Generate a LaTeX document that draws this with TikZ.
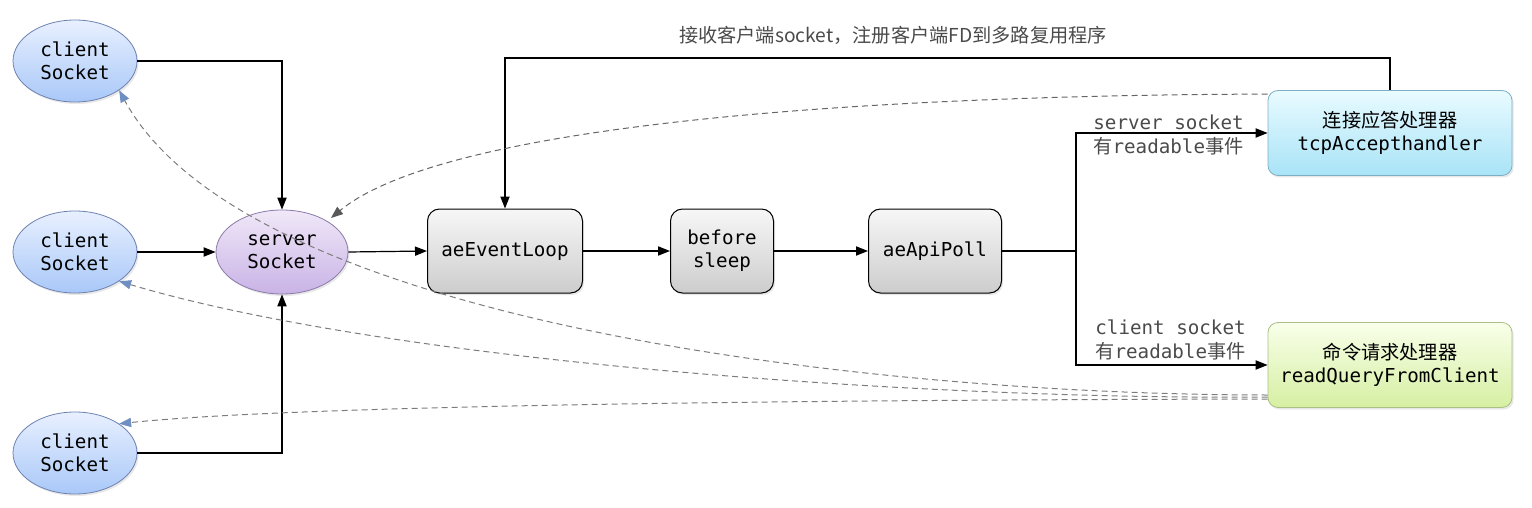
\documentclass[tikz,border=0pt]{standalone}
\usepackage{fontspec}
\setmonofont{DejaVu Sans Mono}
\newfontfamily\cjk{Noto Sans CJK SC}
\usepackage{xcolor}
\usepackage{tikz}
\usetikzlibrary{positioning,shapes.geometric,arrows.meta,shadows}

\begin{document}
\begin{tikzpicture}[
  x=0.5pt,y=-0.5pt,
  font=\ttfamily\fontsize{9.6}{11.6}\selectfont,
  every node/.style={align=center,inner sep=0},
  soft shadow/.style={drop shadow={opacity=0.18,shadow xshift=0.8pt,shadow yshift=-1pt}},
  sock/.style={ellipse,draw=sockline,line width=0.4pt,top color=socktop,bottom color=sockbot,
    minimum width=62pt,minimum height=41pt,soft shadow},
  srvsock/.style={sock,draw=srvline,top color=srvtop,bottom color=srvbot,
    minimum width=66pt,minimum height=42pt},
  stage/.style={rectangle,rounded corners=6pt,draw=black,line width=0.5pt,
    top color=stagetop,bottom color=stagebot,minimum height=42pt,soft shadow},
  handler/.style={rectangle,rounded corners=5pt,line width=0.4pt,
    minimum width=122pt,minimum height=42.5pt,soft shadow},
  flow/.style={draw=black,line width=0.6pt,-{Triangle[length=6pt,width=4.6pt]}},
  back/.style={draw=dashgray,line width=0.5pt,dash pattern=on 3pt off 2pt,
    -{Triangle[length=6pt,width=4.6pt,color=tipblue]}},
  note/.style={text=notegray,align=left}]

  \definecolor{socktop}{HTML}{E8F0FF}
  \definecolor{sockbot}{HTML}{A9C8F8}
  \definecolor{sockline}{HTML}{6E82B0}
  \definecolor{srvtop}{HTML}{F0E8F8}
  \definecolor{srvbot}{HTML}{C9B3E6}
  \definecolor{srvline}{HTML}{8A7AA8}
  \definecolor{stagetop}{HTML}{F7F7F7}
  \definecolor{stagebot}{HTML}{CDCDCD}
  \definecolor{acctop}{HTML}{E9FBFF}
  \definecolor{accbot}{HTML}{A8E3F7}
  \definecolor{accline}{HTML}{7FAFC4}
  \definecolor{readtop}{HTML}{F9FFEA}
  \definecolor{readbot}{HTML}{D6EFA2}
  \definecolor{readline}{HTML}{A9BF86}
  \definecolor{dashgray}{HTML}{7C7C7C}
  \definecolor{tipblue}{HTML}{6F8FC2}
  \definecolor{notegray}{HTML}{4A4A4A}

  \useasboundingbox (0,0) rectangle (1532,508);

  % ------------------- sockets ----------------------
  \node[sock] (c1) at (75,61)  {client\\Socket};
  \node[sock] (c2) at (75,252) {client\\Socket};
  \node[sock] (c3) at (75,453) {client\\Socket};
  \node[srvsock] (srv) at (282,252) {server\\Socket};

  % ------------------- event loop -------------------
  \node[stage,minimum width=77.5pt] (loop)  at (505,251) {aeEventLoop};
  \node[stage,minimum width=51.5pt] (sleep) at (722,251) {before\\sleep};
  \node[stage,minimum width=66.5pt] (poll)  at (935,251) {aeApiPoll};

  % ------------------- handlers ---------------------
  \node[handler,draw=accline,top color=acctop,bottom color=accbot] (tcp) at (1390,133)
    {{\cjk 连接应答处理器}\\tcpAccepthandler};
  \node[handler,draw=readline,top color=readtop,bottom color=readbot] (readq) at (1390,365)
    {{\cjk 命令请求处理器}\\readQueryFromClient};

  % ---------------------------------------------------------
  \draw[flow] (c1.east) -| (srv.north);
  \draw[flow] (c2.east) -- (srv.west);
  \draw[flow] (c3.east) -| (srv.south);

  \draw[flow] (srv.east) -- (loop.west);
  \draw[flow] (loop.east) -- (sleep.west);
  \draw[flow] (sleep.east) -- (poll.west);

  \coordinate (split) at (1076,251);
  \draw[line width=0.6pt] (poll.east) -- (split);
  \draw[flow] (split) |- (tcp.west);
  \draw[flow] (split) |- (readq.west);

  \coordinate (top) at (1390,58);
  \draw[flow] (tcp.north) -- (top) -| (loop.north);

  \node[text=notegray,font=\cjk\fontsize{9.6}{11.6}\selectfont] (topnote) at (893,35)
    {接收客户端socket，注册客户端FD到多路复用程序};
  \node[note,anchor=west] (srvnote) at (1093,135) {server socket\\{\cjk 有}readable{\cjk 事件}};
  \node[note,anchor=west] (clinote) at (1095,340) {client socket\\{\cjk 有}readable{\cjk 事件}};

  % ---------------------------------------------------------
  \draw[back,-{Triangle[length=6pt,width=4.6pt,color=black!65]},draw=black!60]
    ([yshift=-2pt]tcp.north west) .. controls (900,95) and (450,120) .. ([shift={(1pt,2pt)}]srv.north east);
  \draw[back] ([yshift=-15pt]readq.west) .. controls (900,395) and (250,330) .. (c1.south east);
  \draw[back] ([yshift=-16pt]readq.west) .. controls (950,400) and (400,365) .. (c2.south east);
  \draw[back] ([yshift=-17pt]readq.west) .. controls (800,400) and (300,405) .. (c3.north east);
\end{tikzpicture}
\end{document}
